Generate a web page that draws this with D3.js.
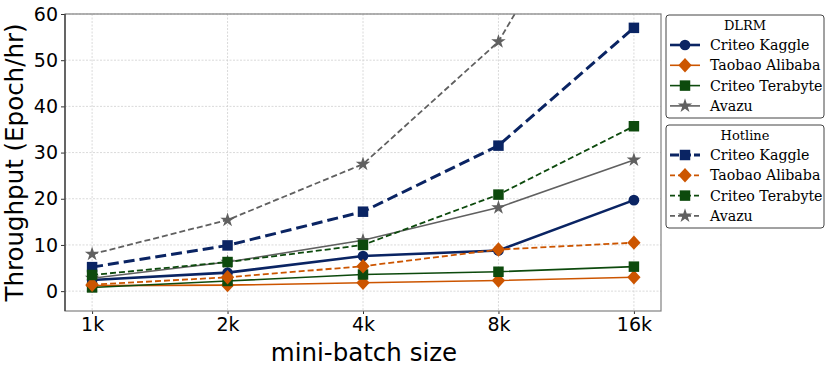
<!DOCTYPE html>
<html>
<head>
<meta charset="utf-8">
<script src="https://cdn.jsdelivr.net/npm/d3@7"></script>
<style>
  body { margin: 0; background: #fff; }
  svg { display: block; }
</style>
</head>
<body>
<svg id="chart" width="831" height="371"></svg>
<script>
// mini-batch sizes
var batchSizes = ["1k", "2k", "4k", "8k", "16k"];
var yTicks = [0, 10, 20, 30, 40, 50, 60];

// DLRM (solid)
var dlrmKaggle   = [2.4, 4.0, 7.6, 8.8, 19.7];
var dlrmTaobao   = [1.2, 1.3, 1.8, 2.3, 3.0];
var dlrmTerabyte = [0.8, 2.2, 3.6, 4.2, 5.3];
var dlrmAvazu    = [2.8, 6.3, 11.0, 18.1, 28.4];

// Hotline (dashed)
var hotKaggle    = [5.2, 9.9, 17.2, 31.5, 57.0];
var hotTaobao    = [1.4, 3.0, 5.4, 9.0, 10.5];
var hotTerabyte  = [3.5, 6.3, 10.0, 20.9, 35.7];
var hotAvazu     = [8.0, 15.4, 27.5, 54.0, 104];

var names = ["Criteo Kaggle", "Taobao Alibaba", "Criteo Terabyte", "Avazu"];
var colors = ["#0a2463", "#cc5500", "#0d4a0d", "#606060"];

var dlrm = [
  { values: dlrmKaggle, marker: "circle", width: 2.6, size: 90 },
  { values: dlrmTaobao, marker: "diamond", width: 1.6, size: 60 },
  { values: dlrmTerabyte, marker: "square", width: 1.6, size: 110 },
  { values: dlrmAvazu, marker: "star", width: 1.6, size: 65 }
];
var hotline = [
  { values: hotKaggle, marker: "square", width: 3, size: 110, dash: "11,5" },
  { values: hotTaobao, marker: "diamond", width: 1.8, size: 60, dash: "6,3" },
  { values: hotTerabyte, marker: "square", width: 1.8, size: 110, dash: "6,3" },
  { values: hotAvazu, marker: "star", width: 1.8, size: 65, dash: "6,3" }
];

var svg = d3.select("#chart");
var m = { left: 65, right: 661, top: 14, bottom: 311 };

var x = d3.scaleLinear().domain([-0.2, 4.2]).range([m.left, m.right]);
var y = d3.scaleLinear().domain([-4.3, 60]).range([m.bottom, m.top]);

var symbols = {
  circle: d3.symbolCircle,
  diamond: d3.symbolDiamond,
  square: d3.symbolSquare,
  star: d3.symbolStar
};

// diamonds in d3 are narrow, widen them like matplotlib "D"
function markerTransform(s, px, py) {
  return "translate(" + px + "," + py + ")" + (s.marker == "diamond" ? " scale(1.6,1)" : "");
}

svg.append("defs").append("clipPath").attr("id", "plotclip")
  .append("rect")
    .attr("x", m.left).attr("y", m.top)
    .attr("width", m.right - m.left).attr("height", m.bottom - m.top);

// grid
var grid = svg.append("g").attr("class", "grid");
grid.selectAll(".gy").data(yTicks).enter().append("line")
  .attr("x1", m.left).attr("x2", m.right)
  .attr("y1", function(d) { return y(d); }).attr("y2", function(d) { return y(d); })
  .attr("stroke", "#d0d0d0").attr("stroke-width", 0.8).attr("stroke-dasharray", "2,1.5");
grid.selectAll(".gx").data(batchSizes).enter().append("line")
  .attr("x1", function(d, i) { return x(i); }).attr("x2", function(d, i) { return x(i); })
  .attr("y1", m.top).attr("y2", m.bottom)
  .attr("stroke", "#d0d0d0").attr("stroke-width", 0.8).attr("stroke-dasharray", "2,1.5");

// axes
var yAxis = d3.axisLeft(y).tickValues(yTicks).tickSize(4).tickPadding(3);
var gy = svg.append("g").attr("transform", "translate(" + m.left + ",0)").call(yAxis);
gy.select(".domain").remove();
gy.selectAll("line").attr("stroke", "#333");
gy.selectAll("text")
  .attr("font-family", "DejaVu Sans, sans-serif").attr("font-size", "19px").attr("fill", "#000");

var xAxis = d3.axisBottom(x).tickValues(d3.range(batchSizes.length))
  .tickFormat(function(i) { return batchSizes[i]; }).tickSize(3).tickPadding(4);
var gx = svg.append("g").attr("transform", "translate(0," + m.bottom + ")").call(xAxis);
gx.select(".domain").remove();
gx.selectAll("line").attr("stroke", "#333");
gx.selectAll("text")
  .attr("font-family", "DejaVu Sans, sans-serif").attr("font-size", "19px").attr("fill", "#000");

// lines
var plot = svg.append("g").attr("clip-path", "url(#plotclip)");
var line = d3.line().x(function(d, i) { return x(i); }).y(function(d) { return y(d); });

function drawSeries(list) {
  list.forEach(function(s, k) {
    plot.append("path")
      .attr("d", line(s.values))
      .attr("fill", "none")
      .attr("stroke", colors[k])
      .attr("stroke-width", s.width)
      .attr("stroke-dasharray", s.dash || null);
    plot.selectAll(null).data(s.values).enter().append("path")
      .attr("d", d3.symbol().type(symbols[s.marker]).size(s.size))
      .attr("transform", function(d, i) { return markerTransform(s, x(i), y(d)); })
      .attr("fill", colors[k]);
  });
}
drawSeries(dlrm);
drawSeries(hotline);

// frame
svg.append("rect")
  .attr("x", m.left).attr("y", m.top)
  .attr("width", m.right - m.left).attr("height", m.bottom - m.top)
  .attr("fill", "none").attr("stroke", "#808080").attr("stroke-width", 1.2);
svg.append("line")
  .attr("x1", m.left).attr("x2", m.left).attr("y1", m.top).attr("y2", m.bottom)
  .attr("stroke", "#333").attr("stroke-width", 1.2);

// axis titles
svg.append("text")
  .attr("transform", "translate(23," + ((m.top + m.bottom) / 2) + ") rotate(-90)")
  .attr("text-anchor", "middle")
  .attr("font-family", "DejaVu Sans, sans-serif").attr("font-size", "24.5px")
  .text("Throughput (Epoch/hr)");
svg.append("text")
  .attr("x", (m.left + m.right) / 2 + 1).attr("y", 361)
  .attr("text-anchor", "middle")
  .attr("font-family", "DejaVu Sans, sans-serif").attr("font-size", "24.5px")
  .text("mini-batch size");

// legends
function drawLegend(top, title, list) {
  var g = svg.append("g").attr("transform", "translate(666," + top + ")");
  g.append("rect")
    .attr("width", 158).attr("height", 103).attr("rx", 3)
    .attr("fill", "#fff").attr("stroke", "#444").attr("stroke-width", 1);
  g.append("text")
    .attr("x", 79).attr("y", 15).attr("text-anchor", "middle")
    .attr("font-family", "DejaVu Serif, serif").attr("font-size", "13px")
    .text(title);
  list.forEach(function(s, k) {
    var yy = 30 + k * 20.3;
    g.append("line")
      .attr("x1", 4).attr("x2", 34).attr("y1", yy).attr("y2", yy)
      .attr("stroke", colors[k]).attr("stroke-width", s.width)
      .attr("stroke-dasharray", s.dash ? (s.dash == "11,5" ? "9,3" : "5,3") : null);
    g.append("path")
      .attr("d", d3.symbol().type(symbols[s.marker]).size(s.size))
      .attr("transform", markerTransform(s, 19, yy))
      .attr("fill", colors[k]);
    g.append("text")
      .attr("x", 44).attr("y", yy + 5)
      .attr("font-family", "DejaVu Serif, serif").attr("font-size", "14.2px")
      .text(names[k]);
  });
}
drawLegend(15, "DLRM", dlrm);
drawLegend(125, "Hotline", hotline);
</script>
</body>
</html>
